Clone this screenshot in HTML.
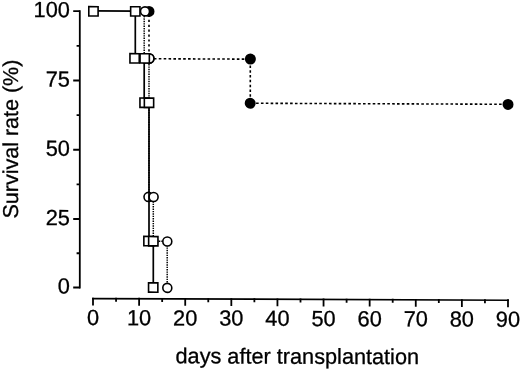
<!DOCTYPE html><html><head><meta charset="utf-8"><title>Survival rate</title><style>html,body{margin:0;padding:0;background:#fff;}svg{display:block;}</style></head><body>
<svg width="520" height="369" viewBox="0 0 520 369">
<rect width="520" height="369" fill="#fff"/>
<g transform="matrix(1 0.004 0 1 0 -0.6)">
<g font-family="'Liberation Sans', Arial, Helvetica, sans-serif" font-size="21.8" fill="#000" stroke="#000" stroke-width="0.3">
<text x="70" y="293.90" text-anchor="end">0</text>
<text x="70" y="225.40" text-anchor="end">25</text>
<text x="70" y="156.15" text-anchor="end">50</text>
<text x="70" y="86.90" text-anchor="end">75</text>
<text x="70" y="17.50" text-anchor="end">100</text>
<text x="93.00" y="325.3" text-anchor="middle">0</text>
<text x="139.11" y="325.3" text-anchor="middle">10</text>
<text x="185.22" y="325.3" text-anchor="middle">20</text>
<text x="231.33" y="325.3" text-anchor="middle">30</text>
<text x="277.44" y="325.3" text-anchor="middle">40</text>
<text x="323.55" y="325.3" text-anchor="middle">50</text>
<text x="369.66" y="325.3" text-anchor="middle">60</text>
<text x="415.77" y="325.3" text-anchor="middle">70</text>
<text x="461.88" y="325.3" text-anchor="middle">80</text>
<text x="507.99" y="325.3" text-anchor="middle">90</text>
<text x="297.3" y="363.1" text-anchor="middle" font-size="21.7">days after transplantation</text>
<text transform="translate(18.4,139.6) rotate(-90)" text-anchor="middle" font-size="21.5">Survival rate (%)</text>
</g>
<g stroke="#000" stroke-width="1.8" fill="none" stroke-linecap="butt">
<path d="M79.80 10.50 V288.70"/>
<path d="M73.2 287.80 H79.80"/>
<path d="M73.2 219.30 H79.80"/>
<path d="M73.2 150.05 H79.80"/>
<path d="M73.2 80.80 H79.80"/>
<path d="M73.2 11.40 H79.80"/>
<path d="M76.6 253.55 H79.80"/>
<path d="M76.6 184.70 H79.80"/>
<path d="M76.6 115.40 H79.80"/>
<path d="M76.6 46.10 H79.80"/>
<path d="M92.10 298.80 H508.89" stroke-width="1.7"/>
<path d="M93.00 297.90 V305.70"/>
<path d="M116.06 297.90 V301.90"/>
<path d="M139.11 297.90 V305.70"/>
<path d="M162.16 297.90 V301.90"/>
<path d="M185.22 297.90 V305.70"/>
<path d="M208.27 297.90 V301.90"/>
<path d="M231.33 297.90 V305.70"/>
<path d="M254.38 297.90 V301.90"/>
<path d="M277.44 297.90 V305.70"/>
<path d="M300.50 297.90 V301.90"/>
<path d="M323.55 297.90 V305.70"/>
<path d="M346.61 297.90 V301.90"/>
<path d="M369.66 297.90 V305.70"/>
<path d="M392.71 297.90 V301.90"/>
<path d="M415.77 297.90 V305.70"/>
<path d="M438.82 297.90 V301.90"/>
<path d="M461.88 297.90 V305.70"/>
<path d="M484.94 297.90 V301.90"/>
<path d="M507.99 297.90 V305.70"/>
</g>
<g stroke="#000" stroke-width="1.6" fill="none">
<path d="M149.00 11.20 V58.75" stroke-dasharray="2.2 2.7" stroke-dashoffset="1.2"/>
<path d="M149.00 58.75 H250.30" stroke-dasharray="2.6 2.28" stroke-dashoffset="0"/>
<path d="M250.30 58.75 V102.85" stroke-dasharray="2.5 2.3" stroke-dashoffset="3.3"/>
<path d="M250.30 102.85 H508.00" stroke-dasharray="2.6 2.26" stroke-dashoffset="3.96"/>
</g>
<g fill="#000">
<circle cx="149.00" cy="11.40" r="5.50"/>
<circle cx="149.20" cy="58.50" r="5.50"/>
<circle cx="250.40" cy="58.60" r="5.50"/>
<circle cx="250.20" cy="102.85" r="5.50"/>
<circle cx="508.00" cy="102.95" r="5.50"/>
</g>
<path d="M144.20 11.20 V58.75 H149.00 V197.00 H153.30 V241.30 H167.20 V287.50" stroke="#000" stroke-width="1.5" fill="none" stroke-dasharray="1.4 1.0"/>
<g fill="#fff" stroke="#000" stroke-width="1.60">
<circle cx="145.00" cy="11.40" r="4.50"/>
<circle cx="144.70" cy="58.40" r="4.50"/>
<circle cx="149.40" cy="58.50" r="4.50"/>
<circle cx="148.50" cy="196.90" r="4.50"/>
<circle cx="153.60" cy="197.00" r="4.50"/>
<circle cx="153.30" cy="241.20" r="4.50"/>
<circle cx="167.30" cy="241.40" r="4.50"/>
<circle cx="167.30" cy="287.80" r="4.50"/>
</g>
<path d="M93.45 11.20 H135.30 V58.75 H144.20 V102.85 H149.00 V241.30 H153.30 V287.50" stroke="#000" stroke-width="1.7" fill="none"/>
<g fill="#fff" stroke="#000" stroke-width="1.60">
<rect x="88.80" y="6.90" width="9.30" height="9.30"/>
<rect x="130.65" y="6.80" width="9.30" height="9.30"/>
<rect x="129.95" y="53.75" width="9.30" height="9.30"/>
<rect x="140.05" y="53.75" width="9.30" height="9.30"/>
<rect x="139.95" y="98.10" width="9.30" height="9.30"/>
<rect x="144.35" y="98.10" width="9.30" height="9.30"/>
<rect x="143.85" y="236.45" width="9.30" height="9.30"/>
<rect x="148.65" y="236.55" width="9.30" height="9.30"/>
<rect x="148.55" y="282.85" width="9.30" height="9.30"/>
</g>
</g>
</svg></body></html>
